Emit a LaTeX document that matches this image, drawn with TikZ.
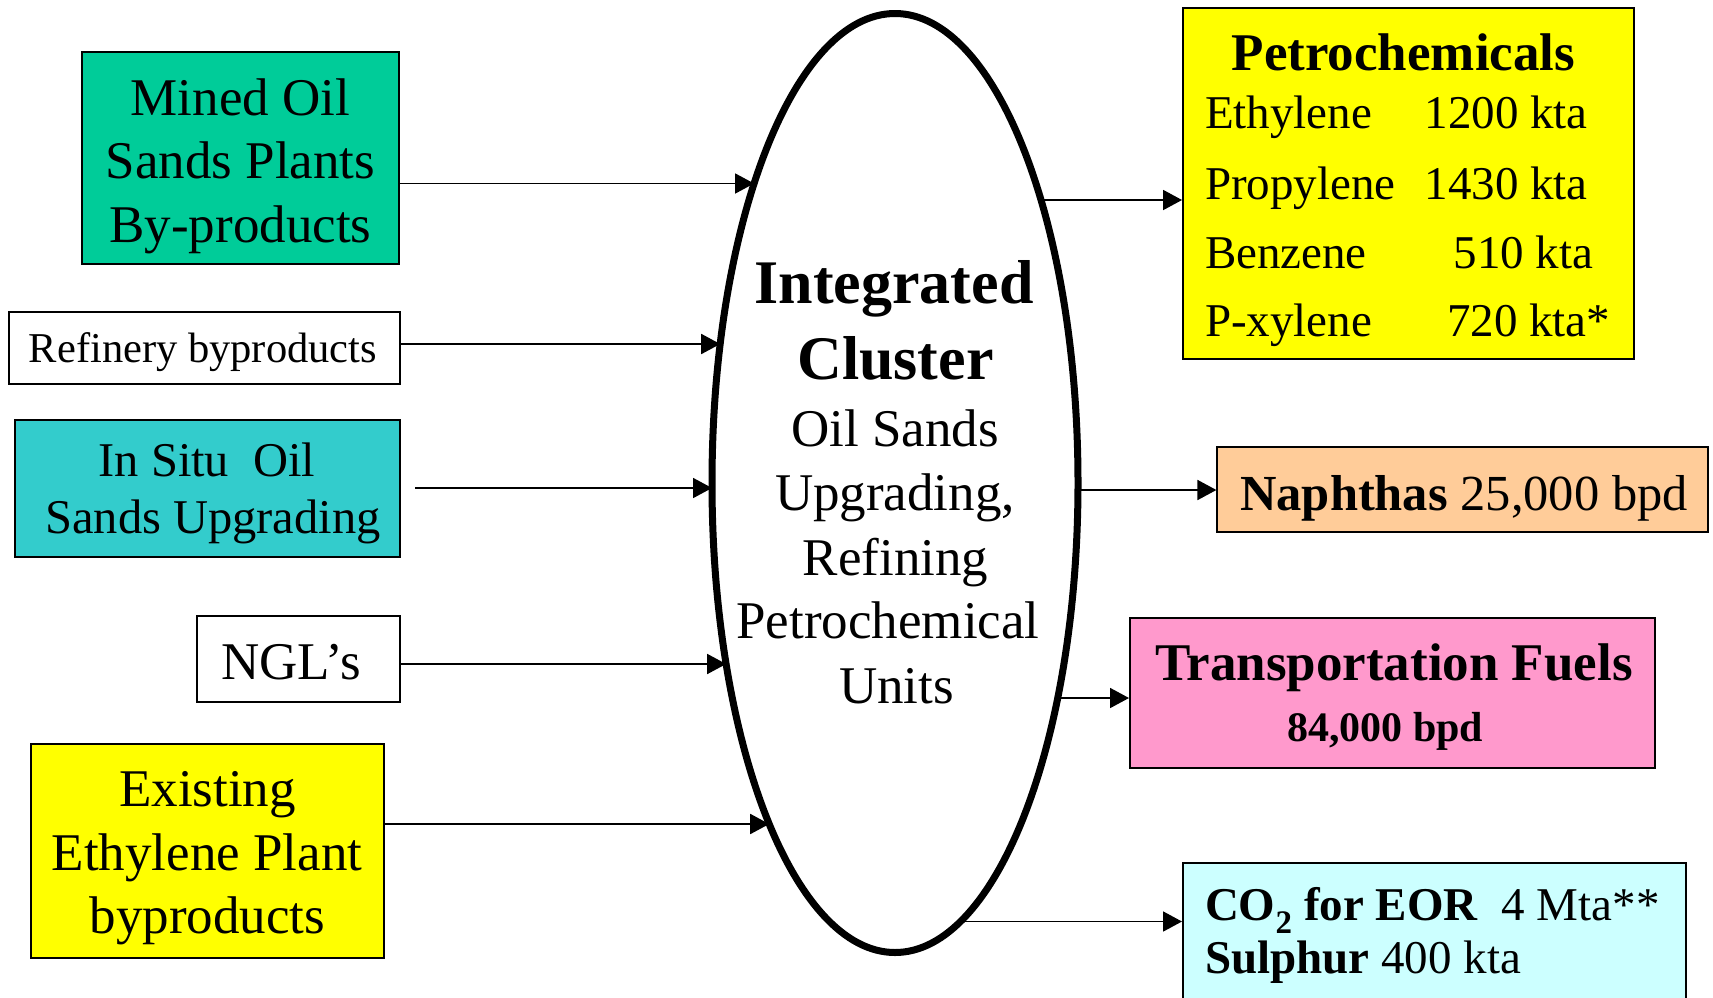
\documentclass[tikz,border=0pt]{standalone}
\usepackage{fontspec}
\setmainfont{Liberation Serif}
\usetikzlibrary{arrows.meta,shapes.geometric}
\definecolor{minedgreen}{HTML}{00CC99}
\definecolor{situcyan}{HTML}{33CCCC}
\definecolor{boxyellow}{HTML}{FFFF00}
\definecolor{naphpeach}{HTML}{FFCC99}
\definecolor{fuelpink}{HTML}{FF99CC}
\definecolor{colightcyan}{HTML}{CCFFFF}
\newcommand\fsz[1]{\fontsize{#1}{#1}\selectfont}
\begin{document}
\begin{tikzpicture}[x=1pt,y=-1pt,
  box/.style={draw=black, line width=2pt, rectangle, inner sep=0pt},
  lbl/.style={anchor=base, inner sep=0pt, outer sep=0pt},
  lblw/.style={anchor=base west, inner sep=0pt, outer sep=0pt},
  arr/.style={line width=1.8pt, -{Triangle[length=19pt,width=20pt]}},
  txtA/.style={font=\fsz{53}},
  txtB/.style={font=\fsz{53}\bfseries},
  txtC/.style={font=\fsz{47}},
  txtE/.style={font=\fsz{62}\bfseries}
]
\clip (0,0) rectangle (1713,997);
\fill[white] (0,0) rectangle (1713,997);

% ---------- central ellipse ----------
\node[ellipse, draw, line width=7pt, minimum width=366pt, minimum height=939pt, inner sep=0pt] (E) at (895,483) {};
\node[lbl,txtE] (e1) at (894,303) {Integrated};
\node[lbl,txtE] (e2) at (895.5,379) {Cluster};
\node[lbl,txtA] (e3) at (895,446) {Oil Sands};
\node[lbl,txtA] (e4) at (895,510) {Upgrading,};
\node[lbl,txtA] (e5) at (895.5,575) {Refining};
\node[lbl,txtA] (e6) at (888,638) {Petrochemical};
\node[lbl,txtA] (e7) at (896.5,703) {Units};

% ---------- input boxes ----------
\node[box, fill=minedgreen, minimum width=317pt, minimum height=212pt] (mined) at (240.5,158) {};
\node[lbl,txtA] (m1) at (240.5,115) {Mined Oil};
\node[lbl,txtA] (m2) at (240.5,178) {Sands Plants};
\node[lbl,txtA] (m3) at (240.5,242) {By-products};

\node[box, fill=white, minimum width=391pt, minimum height=72pt] (refin) at (204,348) {};
\node[lbl,font=\fsz{42.5}] (r1) at (203,362.7) {Refinery byproducts};

\node[box, fill=situcyan, minimum width=385pt, minimum height=137pt] (insitu) at (207,488.5) {};
\node[lbl,font=\fsz{48.5}] (s1) at (207,476.7) {In Situ\ \ Oil};
\node[lbl,font=\fsz{48.5}] (s2) at (213,533) {Sands Upgrading};

\node[box, fill=white, minimum width=203pt, minimum height=86pt] (ngl) at (298,659) {};
\node[lbl,txtA] (n1) at (291,679) {NGL’s};

\node[box, fill=boxyellow, minimum width=353pt, minimum height=214pt] (exist) at (207,851) {};
\node[lbl,txtA] (x1) at (207.5,806) {Existing};
\node[lbl,txtA] (x2) at (207,870) {Ethylene Plant};
\node[lbl,txtA] (x3) at (207.5,933) {byproducts};

% ---------- output boxes ----------
\node[box, fill=boxyellow, minimum width=450.5pt, minimum height=351pt] (petro) at (1408.3,183.8) {};
\node[lbl,txtB] (p0) at (1403.5,70.7) {Petrochemicals};
\node[lblw,txtC] (p1a) at (1205,128.3) {Ethylene};
\node[lblw,txtC] (p1b) at (1424.5,128.3) {1200 kta};
\node[lblw,txtC] (p2a) at (1205,199) {Propylene};
\node[lblw,txtC] (p2b) at (1424.5,199) {1430 kta};
\node[lblw,txtC] (p3a) at (1205,268) {Benzene};
\node[lblw,txtC] (p3b) at (1453.6,268) {510 kta};
\node[lblw,txtC] (p4a) at (1205,336.7) {P-xylene};
\node[lblw,txtC] (p4b) at (1447,336.7) {720 kta*};

\node[box, fill=naphpeach, minimum width=491pt, minimum height=85pt] (naph) at (1462.9,489.5) {};
\node[lbl,font=\fsz{50.5}] (nt) at (1464,510) {\textbf{Naphthas} 25,000 bpd};

\node[box, fill=fuelpink, minimum width=525pt, minimum height=150pt] (fuel) at (1392.5,693) {};
\node[lbl,txtB] (f1) at (1394,680) {Transportation Fuels};
\node[lbl,font=\fsz{42}\bfseries] (f2) at (1385.3,741.7) {84,000 bpd};

\node[box, fill=colightcyan, minimum width=503.4pt, minimum height=152pt] (co2) at (1434.7,939) {};
\node[lblw,txtC] (c1) at (1205,920) {\textbf{CO\textsubscript{2} for EOR}\ \ 4 Mta**};
\node[lblw,txtC] (c2) at (1205,973) {\textbf{Sulphur} 400 kta};

% ---------- ellipse border points ----------
\pgfmathsetmacro\xa{895-183*sqrt(1-((183.5-483)/469.5)^2)}
\pgfmathsetmacro\xb{895-183*sqrt(1-((344-483)/469.5)^2)}
\pgfmathsetmacro\xc{895-183*sqrt(1-((488-483)/469.5)^2)}
\pgfmathsetmacro\xd{895-183*sqrt(1-((664-483)/469.5)^2)}
\pgfmathsetmacro\xe{895-183*sqrt(1-((824-483)/469.5)^2)}
\pgfmathsetmacro\xf{895+183*sqrt(1-((200-483)/469.5)^2)}
\pgfmathsetmacro\xg{895+183*sqrt(1-((490-483)/469.5)^2)}
\pgfmathsetmacro\xh{895+183*sqrt(1-((698-483)/469.5)^2)}
\pgfmathsetmacro\xi{895+183*sqrt(1-((921.5-483)/469.5)^2)}
\coordinate (ia) at (\xa,183.5);
\coordinate (ib) at (\xb,344);
\coordinate (ic) at (\xc,488);
\coordinate (id) at (\xd,664);
\coordinate (ie) at (\xe,824);
\coordinate (oa) at (\xf,200);
\coordinate (ob) at (\xg,490);
\coordinate (oc) at (\xh,698);
\coordinate (od) at (\xi,921.5);
\coordinate (situstart) at (415,488);

% ---------- connectors ----------
\draw[arr] (mined.east |- ia) -- (ia);
\draw[arr] (refin.east |- ib) -- (ib);
\draw[arr] (situstart) -- (ic);
\draw[arr] (ngl.east |- id) -- (id);
\draw[arr] (exist.east |- ie) -- (ie);
\draw[arr] (oa) -- (petro.west |- oa);
\draw[arr] (ob) -- (naph.west |- ob);
\draw[arr] (oc) -- (fuel.west |- oc);
\draw[arr] (od) -- (co2.west |- od);
\end{tikzpicture}
\end{document}
